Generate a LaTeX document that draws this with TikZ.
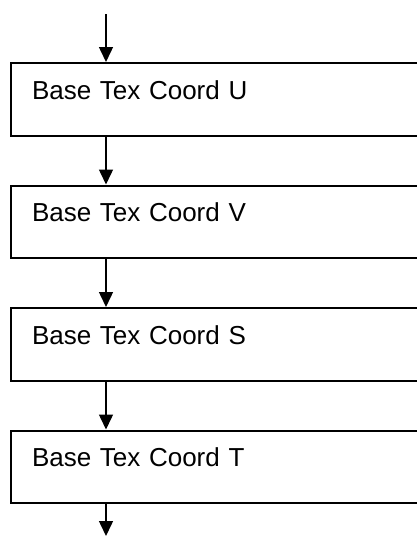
\documentclass[tikz,border=0pt]{standalone}
\usepackage{fontspec}
\setmainfont{Liberation Sans}
\usepackage{tikz}
\usetikzlibrary{positioning, arrows.meta}

\begin{document}
\begin{tikzpicture}[x=1pt, y=-1pt,
            coordbox/.style={draw, line width=2pt, rectangle, anchor=north west, align=left, font=\fontsize{26}{30}\selectfont, minimum width=412pt, text width=370pt, inner xsep=20pt, inner ysep=0pt, text height=36pt, text depth=36.5pt},
            flow/.style={line width=1.5pt, -{Triangle[width=14pt, length=15pt]}},
            node distance=48pt
        ]
            \useasboundingbox (0,0) rectangle (416,536);

            \coordinate (in) at (106,14);
            \coordinate (out) at (106,536);

            \node[coordbox] at (10,62) (texu) {Base Tex Coord U};
            \node[coordbox, below=of texu] (texv) {Base Tex Coord V};
            \node[coordbox, below=of texv] (texs) {Base Tex Coord S};
            \node[coordbox, below=of texs] (text) {Base Tex Coord T};

            \draw[flow] (in) -- (in |- texu.north);
            \draw[flow] (in |- texu.south) -- (in |- texv.north);
            \draw[flow] (in |- texv.south) -- (in |- texs.north);
            \draw[flow] (in |- texs.south) -- (in |- text.north);
            \draw[flow] (in |- text.south) -- (out);

        \end{tikzpicture}
\end{document}
